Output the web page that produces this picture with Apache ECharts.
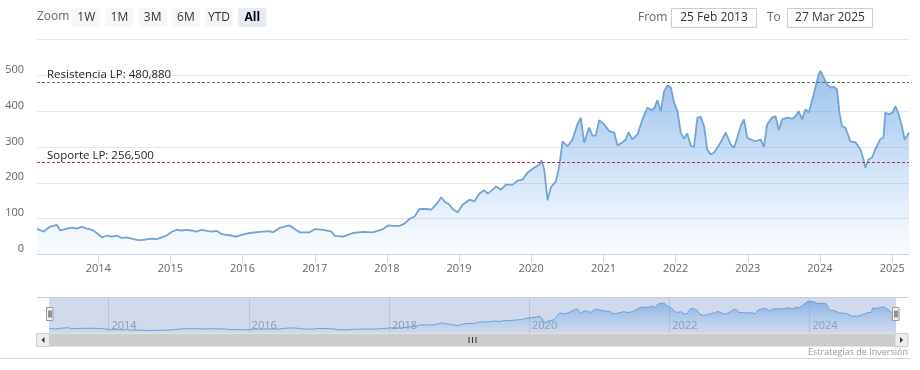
<!DOCTYPE html>
<html><head><meta charset="utf-8">
<script src="https://cdn.jsdelivr.net/npm/echarts@6/dist/echarts.min.js"></script>
<style>html,body{margin:0;padding:0;background:#fff}#c{width:920px;height:370px}</style>
</head><body><div id="c"></div>
<script>
const dates = ['2013-02-25','2013-03-30','2013-05-03','2013-06-06','2013-06-22','2013-07-26','2013-08-21','2013-09-15','2013-10-10','2013-11-04','2013-11-30','2013-12-25',
'2014-01-19','2014-02-13','2014-03-10','2014-04-05','2014-04-30','2014-05-25','2014-06-19','2014-07-15','2014-08-09','2014-09-03','2014-09-29','2014-10-24','2014-11-18','2014-12-13',
'2015-01-07','2015-02-02','2015-02-27','2015-03-24','2015-04-18','2015-05-14','2015-06-08','2015-07-03','2015-07-28','2015-08-23','2015-09-17','2015-10-12','2015-11-06','2015-12-01','2015-12-27',
'2016-01-21','2016-02-07','2016-03-28','2016-05-18','2016-06-03','2016-07-07','2016-08-27','2016-09-21','2016-10-16','2016-12-06',
'2017-01-02','2017-02-12','2017-03-26','2017-04-12','2017-05-24','2017-07-13','2017-09-02','2017-10-22','2017-12-12',
'2018-01-06','2018-02-09','2018-03-06','2018-03-31','2018-04-25','2018-05-21','2018-06-15','2018-07-19','2018-08-13','2018-09-07','2018-10-03','2018-10-19','2018-11-13','2018-11-30','2018-12-25',
'2019-01-19','2019-02-22','2019-03-19','2019-04-14','2019-05-09','2019-05-26','2019-06-20','2019-07-07','2019-08-01','2019-08-26','2019-09-29','2019-10-24','2019-11-18','2019-12-13',
'2020-01-16','2020-02-11','2020-02-22','2020-03-07','2020-03-24','2020-04-10','2020-05-05','2020-05-22','2020-06-08','2020-07-03','2020-07-28','2020-08-22','2020-09-08','2020-09-25','2020-10-20','2020-11-06','2020-11-23','2020-12-10',
'2021-01-05','2021-01-30','2021-02-24','2021-03-13','2021-04-07','2021-04-24','2021-05-07','2021-05-27','2021-06-22','2021-07-17','2021-08-11','2021-08-29','2021-09-14','2021-10-01','2021-10-18','2021-11-04','2021-11-20','2021-12-08','2021-12-24',
'2022-01-10','2022-01-27','2022-02-13','2022-03-01','2022-03-18','2022-04-04','2022-04-21','2022-05-08','2022-05-25','2022-06-10','2022-06-27','2022-07-14','2022-07-31','2022-08-25','2022-09-11','2022-10-07','2022-10-23','2022-11-09','2022-11-26','2022-12-13','2022-12-29',
'2023-01-15','2023-02-10','2023-03-07','2023-03-24','2023-04-09','2023-05-04','2023-05-22','2023-06-07','2023-06-24','2023-07-19','2023-08-14','2023-08-31','2023-09-16','2023-10-03','2023-10-20','2023-11-06','2023-11-22','2023-12-09','2023-12-26',
'2024-01-04','2024-01-20','2024-02-06','2024-02-23','2024-03-11','2024-03-28','2024-04-09','2024-04-22','2024-05-09','2024-06-03','2024-06-29','2024-07-24','2024-08-09','2024-08-18','2024-09-03','2024-09-20','2024-10-07','2024-11-01','2024-11-18','2024-11-27','2024-12-13',
'2025-01-02','2025-01-17','2025-02-03','2025-02-19','2025-03-05','2025-03-27'];
const values = [72,64,78,83,67,72,75,72,77,72,69,60,
48,53,50,53,46,48,44,41,40,42,44,43,48,53,
63,69,67,69,67,64,69,66,64,66,57,55,53,50,55,
58,60,63,65,62,74,81,71,62,62,
71,69,64,52,50,60,63,62,71,
81,80,80,86,99,106,127,127,125,139,160,148,139,127,118,
139,153,148,170,179,170,181,190,181,195,195,206,209,228,
242,251,263,237,151,188,204,246,316,302,321,363,382,312,354,332,332,375,
363,344,340,304,313,321,341,321,335,377,410,403,407,431,400,456,472,466,424,
400,340,323,338,304,300,382,384,358,293,279,284,298,321,340,307,298,326,358,377,326,
321,316,321,300,363,382,386,347,377,382,379,386,400,377,405,396,428,466,503,
512,494,475,466,468,461,396,358,354,316,313,293,265,242,265,270,293,321,326,396,391,
396,414,391,358,321,340];
const xMin = '2013-02-25';
const xMax = '2025-03-27';
const yMax = 600;
const yStep = 100;
const resistance = 480.88;
const support = 256.5;
const resistanceLabel = 'Resistencia LP: 480,880';
const supportLabel = 'Soporte LP: 256,500';
const zoomButtons = ['1W','1M','3M','6M','YTD','All'];
const selectedButton = 'All';
const rangeFrom = '25 Feb 2013';
const rangeTo = '27 Mar 2025';
const navYears = ['2014','2016','2018','2020','2022','2024'];
const credit = 'Estrategias de Inversión';

const FONT = '"Open Sans", "Liberation Sans", sans-serif';
const seriesData = dates.map((d, i) => [d, values[i]]);
const navYearData = navYears.map(y => [y + '-01-01']);
const DAY = 86400000;

const chart = echarts.init(document.getElementById('c'), null, {renderer: 'canvas'});

const graphics = [];
graphics.push({type:'text', x:37, y:17, style:{text:'Zoom', fill:'#666', font:'12px ' + FONT, align:'left', verticalAlign:'middle'}});
zoomButtons.forEach((b, i) => {
  const bx = 72 + i * 33.2;
  const sel = b === selectedButton;
  graphics.push({type:'rect', shape:{x:bx, y:8, width:28.5, height:19, r:2}, style:{fill: sel ? '#e6ebf5' : '#f7f7f7'}});
  graphics.push({type:'text', x:bx + 14.25, y:17.5, style:{text:b, fill: sel ? '#000' : '#333', font:(sel ? 'bold ' : '') + '12px ' + FONT, align:'center', verticalAlign:'middle'}});
});
graphics.push({type:'text', x:638, y:17.5, style:{text:'From', fill:'#666', font:'12px ' + FONT, align:'left', verticalAlign:'middle'}});
graphics.push({type:'rect', shape:{x:671.5, y:8.5, width:85, height:19}, style:{fill:'#fff', stroke:'#cccccc', lineWidth:1}});
graphics.push({type:'text', x:714, y:18, style:{text:rangeFrom, fill:'#333', font:'12px ' + FONT, align:'center', verticalAlign:'middle'}});
graphics.push({type:'text', x:767, y:17.5, style:{text:'To', fill:'#666', font:'12px ' + FONT, align:'left', verticalAlign:'middle'}});
graphics.push({type:'rect', shape:{x:787.5, y:8.5, width:85, height:19}, style:{fill:'#fff', stroke:'#cccccc', lineWidth:1}});
graphics.push({type:'text', x:830, y:18, style:{text:rangeTo, fill:'#333', font:'12px ' + FONT, align:'center', verticalAlign:'middle'}});
graphics.push({type:'line', shape:{x1:37, y1:297.5, x2:908, y2:297.5}, style:{stroke:'#cccccc', lineWidth:1}, z:50});
graphics.push({type:'rect', shape:{x:37, y:333.5, width:871, height:13}, style:{fill:'#f2f2f2'}});
graphics.push({type:'rect', shape:{x:49.5, y:333.5, width:845.5, height:13}, style:{fill:'#cccccc'}});
graphics.push({type:'rect', shape:{x:36.5, y:333.5, width:13, height:13}, style:{fill:'#ececec', stroke:'#cccccc', lineWidth:1}});
graphics.push({type:'rect', shape:{x:895, y:333.5, width:13, height:13}, style:{fill:'#ececec', stroke:'#cccccc', lineWidth:1}});
graphics.push({type:'polygon', shape:{points:[[44.5,337],[44.5,343],[41.5,340]]}, style:{fill:'#333'}});
graphics.push({type:'polygon', shape:{points:[[900,337],[900,343],[903,340]]}, style:{fill:'#333'}});
[469, 472.5, 476].forEach(x => graphics.push({type:'line', shape:{x1:x, y1:337, x2:x, y2:343}, style:{stroke:'#333', lineWidth:1}}));
[46.5, 892.5].forEach(x => {
  graphics.push({type:'rect', shape:{x:x, y:307.5, width:6.5, height:13}, style:{fill:'#f2f2f2', stroke:'#999', lineWidth:1}, z:60});
  graphics.push({type:'line', shape:{x1:x+2.5, y1:310.5, x2:x+2.5, y2:317.5}, style:{stroke:'#333', lineWidth:1}, z:61});
  graphics.push({type:'line', shape:{x1:x+4.5, y1:310.5, x2:x+4.5, y2:317.5}, style:{stroke:'#333', lineWidth:1}, z:61});
});
graphics.push({type:'text', x:908, y:352, style:{text:credit, fill:'#999', font:'9px ' + FONT, align:'right', verticalAlign:'middle'}});
graphics.push({type:'line', shape:{x1:0, y1:358.5, x2:910, y2:358.5}, style:{stroke:'#d6d6de', lineWidth:1}});

const mainArea = new echarts.graphic.LinearGradient(0, 0, 0, 1, [
  {offset:0, color:'rgba(112,166,228,1)'},
  {offset:1, color:'rgba(124,181,236,0.04)'}
]);
const navArea = new echarts.graphic.LinearGradient(0, 0, 0, 1, [
  {offset:0, color:'rgba(100,155,222,0.95)'},
  {offset:1, color:'rgba(124,181,236,0.05)'}
]);

chart.setOption({
  animation: false,
  backgroundColor: '#fff',
  textStyle: {fontFamily: FONT},
  grid: [
    {left:37, right:11, top:39.5, height:215, containLabel:false, outerBoundsMode:'none'},
    {left:49, right:24, top:297.5, height:35.5, containLabel:false, outerBoundsMode:'none', show:true, backgroundColor:'rgba(102,133,194,0.3)', borderWidth:0}
  ],
  xAxis: [
    {type:'time', gridIndex:0, min:xMin, max:xMax, splitNumber:12, minInterval:360*DAY, maxInterval:370*DAY,
     axisLine:{show:true, lineStyle:{color:'#ccd6eb'}},
     axisTick:{show:true, length:8, lineStyle:{color:'#ccd6eb'}},
     axisLabel:{show:true, color:'#666', fontSize:11, fontFamily:FONT, margin:9, formatter:'{yyyy}', showMinLabel:false, showMaxLabel:false},
     splitLine:{show:false}},
    {type:'time', gridIndex:1, min:xMin, max:xMax, show:false, splitLine:{show:false}}
  ],
  yAxis: [
    {type:'value', gridIndex:0, min:0, max:yMax, interval:yStep,
     axisLine:{show:false}, axisTick:{show:false},
     axisLabel:{color:'#666', fontSize:11, fontFamily:FONT, margin:13, verticalAlign:'bottom', lineHeight:11,
       formatter: v => v === yMax ? '' : String(v)},
     splitLine:{lineStyle:{color:'#e6e6e6', width:1}}},
    {type:'value', gridIndex:1, min:0, max:560, show:false, splitLine:{show:false}}
  ],
  series: [
    {type:'line', xAxisIndex:0, yAxisIndex:0, data:seriesData, showSymbol:false, symbol:'none',
     lineStyle:{color:'#72a3d8', width:1.8}, areaStyle:{color:mainArea, origin:'start'}, z:2,
     markLine:{symbol:'none', silent:true, animation:false,
       label:{position:'insideStartTop', color:'#222', fontSize:11.5, fontFamily:FONT, distance:[10,1]},
       data:[
         {yAxis:resistance, lineStyle:{color:'#4b7d3a', type:[3,2], width:1}, label:{formatter:resistanceLabel}},
         {yAxis:support, lineStyle:{color:'#b83040', type:[3,2], width:1}, label:{formatter:supportLabel}}
       ]}},
    {type:'custom', xAxisIndex:1, yAxisIndex:1, data:navYearData, silent:true, z:1,
     renderItem:(params, api) => {
       const p = api.coord([api.value(0), 0]);
       const cs = params.coordSys;
       return {type:'group', children:[
         {type:'line', shape:{x1:Math.round(p[0])+0.5, y1:cs.y, x2:Math.round(p[0])+0.5, y2:cs.y+cs.height}, style:{stroke:'rgba(120,130,150,0.25)', lineWidth:1}},
         {type:'text', style:{text:navYears[params.dataIndex], x:p[0]+3, y:cs.y+cs.height-2, fill:'rgba(90,100,120,0.55)', font:'11px ' + FONT, align:'left', verticalAlign:'bottom'}}
       ]};
     }},
    {type:'line', xAxisIndex:1, yAxisIndex:1, data:seriesData, showSymbol:false, symbol:'none', z:3,
     lineStyle:{color:'#6e9fd6', width:1}, areaStyle:{color:navArea, origin:'start'}}
  ],
  graphic: {elements: graphics}
});
</script></body></html>
